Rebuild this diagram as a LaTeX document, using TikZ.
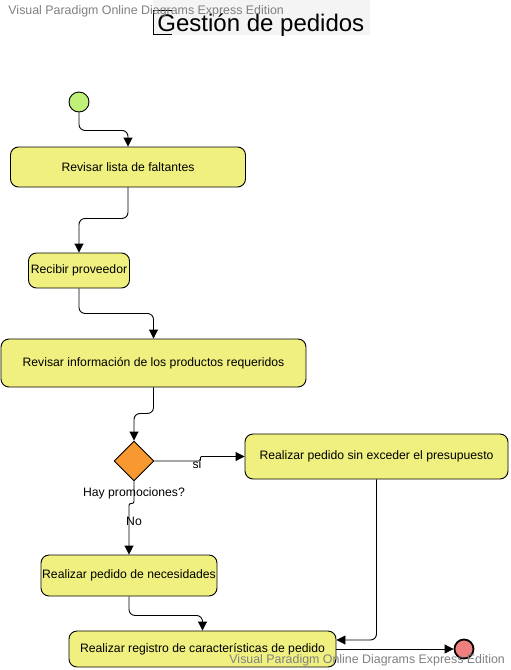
\documentclass[tikz,border=0pt]{standalone}
\usepackage{fontspec}
\setmainfont{Liberation Sans}
\usetikzlibrary{arrows.meta,shapes.geometric}
\definecolor{actfill}{RGB}{240,240,128}
\definecolor{startgreen}{RGB}{192,240,120}
\definecolor{decorange}{RGB}{248,152,48}
\definecolor{endred}{RGB}{240,128,128}
\definecolor{titlegray}{RGB}{244,244,244}

\begin{document}
\begin{tikzpicture}[x=1pt,y=-1pt,line width=0.9pt,
  act/.style={draw,rounded corners=8pt,fill=actfill,inner sep=0pt,
    font=\fontsize{12.2}{14}\selectfont},
  flow/.style={-{Triangle[length=9pt,width=9pt]},rounded corners=6pt},
  lbl/.style={font=\fontsize{12.2}{14}\selectfont,inner sep=0pt},
  wm/.style={text=gray,anchor=west,inner sep=0pt,font=\fontsize{12.4}{14}\selectfont},
]
\useasboundingbox (0,0) rectangle (511,670);

% title
\fill[titlegray] (153,0) rectangle (370,35);
\draw (172,10) -- (153,10) -- (153,34) -- (172,34);
\node[anchor=base west,inner sep=0pt,font=\fontsize{24}{28}\selectfont] (title) at (157,31) {Gestión de pedidos};

% nodes
\node[circle,draw,fill=startgreen,minimum size=20pt,inner sep=0pt] (start) at (79,102) {};
\node[act,minimum width=235pt,minimum height=40pt] (a1) at (128,167) {Revisar lista de faltantes};
\node[act,minimum width=101pt,minimum height=35pt] (a2) at (79,270.5) {Recibir proveedor};
\node[act,minimum width=305pt,minimum height=48pt] (a3) at (153.5,363) {Revisar información de los productos requeridos};
\node[diamond,draw,fill=decorange,minimum width=40pt,minimum height=40pt,inner sep=0pt] (dec) at (134,461) {};
\node[lbl] (q) at (134,493) {Hay promociones?};
\node[act,minimum width=263pt,minimum height=45pt] (a4) at (376.5,456.5) {Realizar pedido sin exceder el presupuesto};
\node[act,minimum width=176pt,minimum height=41pt] (a5) at (129,575.5) {Realizar pedido de necesidades};
\node[act,minimum width=267pt,minimum height=36pt] (a6) at (202.5,649) {Realizar registro de características de pedido};
\node[circle,draw,line width=1.8pt,fill=endred,minimum size=19pt,inner sep=0pt] (end) at (464,649) {};

% flows
\draw[flow] (start.south) -- ++(0,18) -| (a1.north);
\draw[flow] (a1.south) -- ++(0,31) -| (a2.north);
\draw[flow] (a2.south) -- ++(0,25) -| (a3.north);
\draw[flow] (a3.south) -- ++(0,26) -| (dec.north);
\draw[flow,rounded corners=1pt] (dec.east) -- ++(46,0) |- (a4.west);
\node[lbl] (si) at (197,464) {si};
\draw[flow,rounded corners=2pt] (dec.south) -- ++(0,22) -| (a5.north);
\node[lbl] (no) at (134,521) {No};
\draw[flow] (a5.south) -- ++(0,19) -| (a6.north);
\draw[flow] (a4.south) |- ([yshift=9pt]a6.east);
\draw[flow] (a6.east) -- (end.west);

% watermarks
\node[wm] (wmtop) at (8,11) {Visual Paradigm Online Diagrams Express Edition};
\node[wm] (wmbot) at (229,660) {Visual Paradigm Online Diagrams Express Edition};
\end{tikzpicture}
\end{document}
